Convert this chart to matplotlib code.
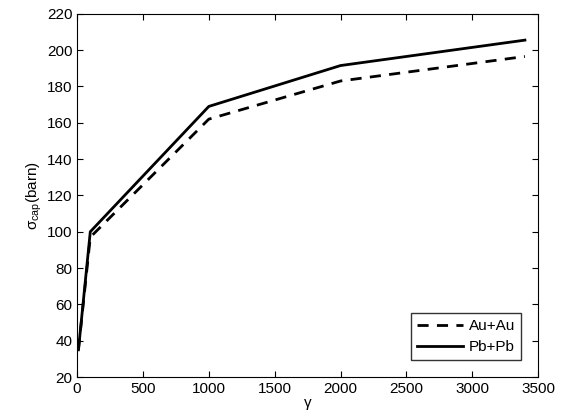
import matplotlib
matplotlib.use('Agg')
import matplotlib.pyplot as plt

plt.rcParams['font.family'] = ['Liberation Sans', 'DejaVu Sans']
plt.rcParams['mathtext.default'] = 'regular'

# data
gamma = [10, 100, 1000, 2000, 3400]
sigma_au = [35, 97, 162, 183, 196.5]
sigma_pb = [35, 100, 169, 191.5, 205.5]

fig = plt.figure(figsize=(5.67, 4.18), dpi=100)
ax = fig.add_axes([0.136, 0.098, 0.813, 0.869])

ax.plot(gamma, sigma_au, 'k--', lw=2, dashes=(4, 3), label='Au+Au')
ax.plot(gamma, sigma_pb, 'k-', lw=2, label='Pb+Pb')

ax.set_xlim(0, 3500)
ax.set_ylim(20, 220)
ax.set_xticks(range(0, 3501, 500))
ax.set_yticks(range(20, 221, 20))
ax.tick_params(direction='in', top=True, right=True, labelsize=11, length=4)
ax.set_xlabel('γ', fontsize=11, labelpad=0)
ax.set_ylabel(r'$\sigma_{cap}$(barn)', fontsize=11, labelpad=2)

leg = ax.legend(loc='lower right', fontsize=11, frameon=True, fancybox=False,
                edgecolor='k', handlelength=3, borderaxespad=1.1,
                borderpad=0.4, labelspacing=0.45, handletextpad=0.4)
leg.get_frame().set_linewidth(1)

fig.savefig('out.png', dpi=100)
